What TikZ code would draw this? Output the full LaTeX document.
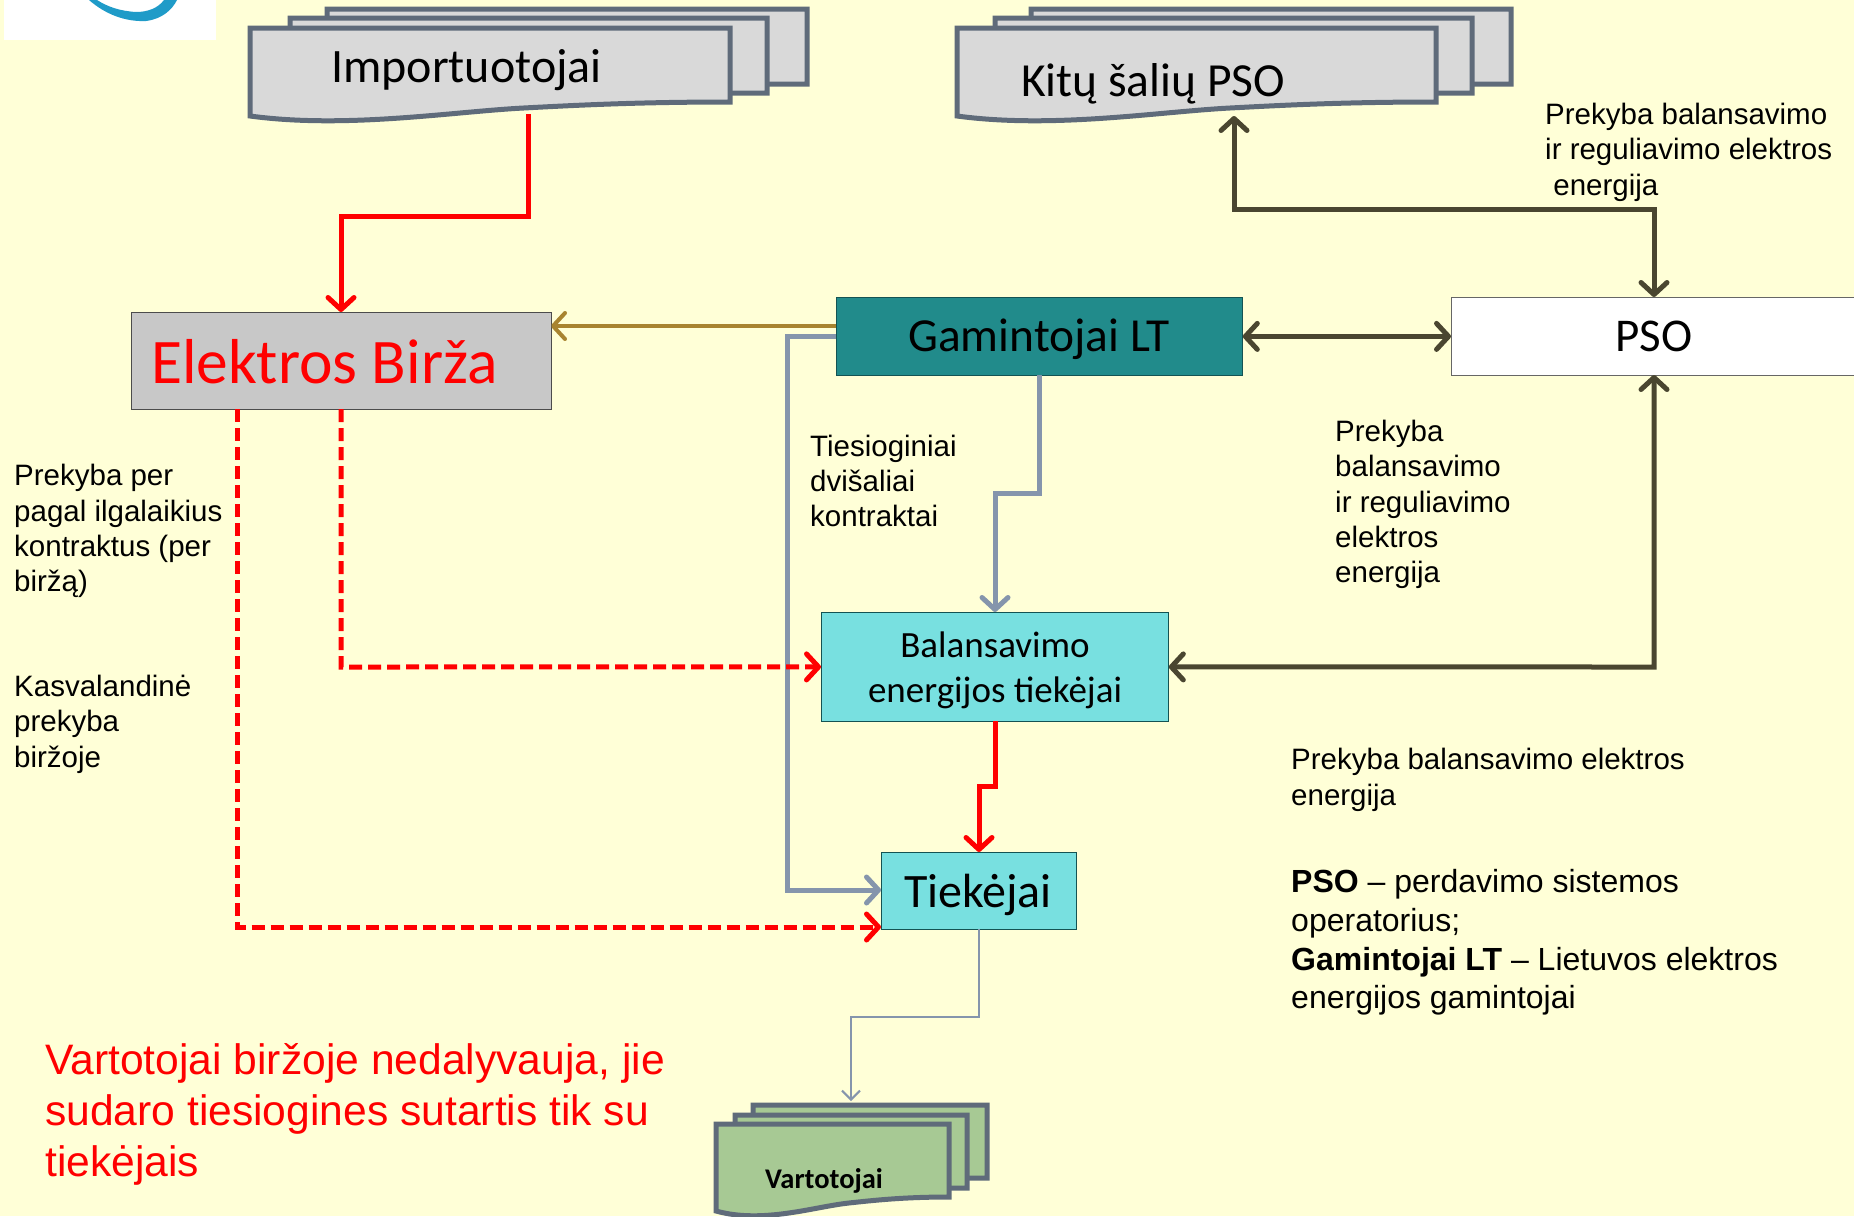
\documentclass[tikz,border=0pt]{standalone}
\usepackage{fontspec}
\setmainfont{Liberation Sans}
\newfontfamily\carl{Carlito}
\usetikzlibrary{arrows.meta}
\definecolor{bgc}{HTML}{FFFFD7}
\definecolor{sheetline}{HTML}{5F6B7A}
\definecolor{sheetgray}{HTML}{D9D9D9}
\definecolor{sheetgreen}{HTML}{A7C994}
\definecolor{teal2}{HTML}{218B8B}
\definecolor{cyan2}{HTML}{78E0E0}
\definecolor{birzagray}{HTML}{C8C8C8}
\definecolor{darkol}{HTML}{4A4630}
\definecolor{steel}{HTML}{8595AC}
\definecolor{brownln}{HTML}{A88430}
\definecolor{swoosh}{HTML}{1F9BC8}
\newcommand{\wavesheet}[5]{%
  \draw[sheet,fill=#5] (#1,#3) -- (#2,#3) -- (#2,#4)
    .. controls ({#1+0.8*(#2-#1)},#4) and ({#1+0.67*(#2-#1)},#4+3.5) .. ({#1+0.57*(#2-#1)},#4+6)
    .. controls ({#1+0.42*(#2-#1)},#4+9.75) and ({#1+0.2*(#2-#1)},#4+27) .. (#1,#4+14) -- cycle;}
\tikzset{
  x=1pt,y=-1pt,
  sheet/.style={draw=sheetline,line width=5pt,line join=miter},
  boxn/.style={draw=#1,line width=0.8pt,inner sep=0,anchor=north west},
  lab/.style={font=\fontsize{29.5}{35.3}\selectfont,align=left,anchor=north west,inner sep=0,text=black},
  notes/.style={font=\fontsize{32}{38.7}\selectfont,align=left,anchor=north west,inner sep=0,text=black},
  boxtext/.style={anchor=base,inner sep=0,align=center,text=black},
  conn/.style={line width=5pt,line join=miter,>={Straight Barb[length=12pt,width=26pt,round]}},
  redc/.style={conn,draw=red},
  redd/.style={conn,draw=red,dash pattern=on 13pt off 6pt},
  darkc/.style={conn,draw=darkol},
  steelc/.style={conn,draw=steel},
}
\begin{document}
\begin{tikzpicture}
\useasboundingbox (0,0) rectangle (1854,1216);
\fill[bgc] (0,0) rectangle (1854,1216);
% logo fragment
\fill[white] (4,0) rectangle (216,40);
\fill[swoosh] (89,0) .. controls (105,14) and (125,22) .. (146,21) .. controls (162,19) and (172,10) .. (177,0) -- (164,0) .. controls (158,8) and (148,12) .. (136,12) .. controls (120,11) and (108,7) .. (97,0) -- cycle;
% stacks
\wavesheet{327}{807}{9}{84}{sheetgray}
\wavesheet{290}{767}{18}{93}{sheetgray}
\wavesheet{250}{730}{28}{102}{sheetgray}
\node[font=\carl\fontsize{48}{50}\selectfont,anchor=base west,inner sep=0] (imp) at (331,82) {Importuotojai};
\wavesheet{1031}{1511}{9}{84}{sheetgray}
\wavesheet{995}{1472}{18}{93}{sheetgray}
\wavesheet{957}{1436}{28}{102}{sheetgray}
\node[font=\carl\fontsize{47.5}{50}\selectfont,anchor=base west,inner sep=0] (kit) at (1021,96) {Kitų šalių PSO};
\wavesheet{753}{987}{1105}{1178}{sheetgreen}
\wavesheet{735}{967}{1115}{1188}{sheetgreen}
\wavesheet{716}{949}{1124}{1197}{sheetgreen}
\node[font=\carl\bfseries\fontsize{28.5}{30}\selectfont,anchor=base west,inner sep=0] (var) at (765,1188) {Vartotojai};
% boxes
\node[boxn=black!70,fill=birzagray,minimum width=420pt,minimum height=97pt] (birza) at (131,312) {};
\node[font=\carl\fontsize{63.5}{70}\selectfont,text=red,anchor=base west,inner sep=0] (birzat) at (151,383) {Elektros Birža};
\node[boxn=teal2!60!black,fill=teal2,minimum width=406pt,minimum height=78pt] (gam) at (836,297) {};
\node[boxtext,font=\carl\fontsize{47.4}{50}\selectfont] (gamt) at (1039,351) {Gamintojai LT};
\node[boxn=black!60,fill=white,minimum width=420pt,minimum height=78pt] (pso) at (1451,297) {};
\node[boxtext,font=\carl\fontsize{47}{50}\selectfont] (psot) at (1654,351) {PSO};
\node[boxn=teal2!60!black,fill=cyan2,minimum width=347pt,minimum height=109pt] (bal) at (821,612) {};
\node[inner sep=0,align=center,text=black,font=\carl\fontsize{37}{45}\selectfont] (balt) at (995,670.5) {Balansavimo\\energijos tiekėjai};
\node[boxn=teal2!60!black,fill=cyan2,minimum width=195pt,minimum height=77pt] (tiek) at (881,852) {};
\node[boxtext,font=\carl\fontsize{48}{50}\selectfont] (tiekt) at (978,907) {Tiekėjai};
% free ends
\coordinate (impout) at (528,114);
\coordinate (birzin) at (341,312);
\coordinate (kitout) at (1234,116);
\coordinate (gamb) at (836,326);
\coordinate (birzab) at (551,326);
\coordinate (gamg) at (836,336);
\coordinate (tiekg) at (881,890);
\coordinate (tiekr) at (881,927);
\coordinate (gamdown) at (1039,375);
\coordinate (balc) at (995,612);
\coordinate (balc2) at (995,721);
\coordinate (tiekc) at (979,852);
\coordinate (tiekc2) at (979,929);
\coordinate (psoc) at (1654,297);
\coordinate (psoc2) at (1654,375);
\coordinate (birzd1) at (237.5,409);
\coordinate (birzd2) at (341,409);
\coordinate (vartin) at (851,1101);
% connectors
\draw[redc,->] (impout) -- (528,216) -- (341,216) -- (birzin);
\draw[conn,line width=4pt,draw=brownln,->] (gamb) -- (birzab);
\draw[steelc,->] (gamg) -- (787,336) -- (787,890) -- (tiekg);
\draw[steelc,->] (gamdown) -- (1039,493) -- (995,493) -- (balc);
\draw[darkc,<->] (gam.east) -- (pso.west);
\draw[darkc,<->] (kitout) -- (1234,209) -- (1654,209) -- (psoc);
\draw[darkc,<->] (psoc2) -- (1654,667) -- (bal.east);
\draw[redd,->] (birzd1) -- (237.5,927) -- (tiekr);
\draw[redd,->] (birzd2) -- (341,667) -- (bal.west);
\draw[redc,->] (balc2) -- (995,786) -- (979,786) -- (tiekc);
\draw[line width=2pt,draw=steel,->,>={Straight Barb[length=9pt,width=18pt]}] (tiekc2) -- (979,1017) -- (851,1017) -- (vartin);
% labels
\node[lab] (l1) at (1545,103) {Prekyba balansavimo\\ir reguliavimo elektros\\\ energija};
\node[lab] (l2) at (1335,420) {Prekyba\\balansavimo\\ir reguliavimo\\elektros\\energija};
\node[lab] (l3) at (810,434.5) {Tiesioginiai\\dvišaliai\\kontraktai};
\node[lab] (l4) at (14,464.4) {Prekyba per\\pagal ilgalaikius\\kontraktus (per\\biržą)};
\node[lab] (l5) at (14,675) {Kasvalandinė\\prekyba\\biržoje};
\node[lab] (l6) at (1291,748.4) {Prekyba balansavimo elektros\\energija};
\node[notes] (l7) at (1291,869.4) {\textbf{PSO} – perdavimo sistemos\\operatorius;\\\textbf{Gamintojai LT} – Lietuvos elektros\\energijos gamintojai};
\node[font=\fontsize{42.6}{51}\selectfont,align=left,anchor=north west,inner sep=0,text=red] (l8) at (45,1043) {Vartotojai biržoje nedalyvauja, jie\\sudaro tiesiogines sutartis tik su\\tiekėjais};
\end{tikzpicture}
\end{document}
